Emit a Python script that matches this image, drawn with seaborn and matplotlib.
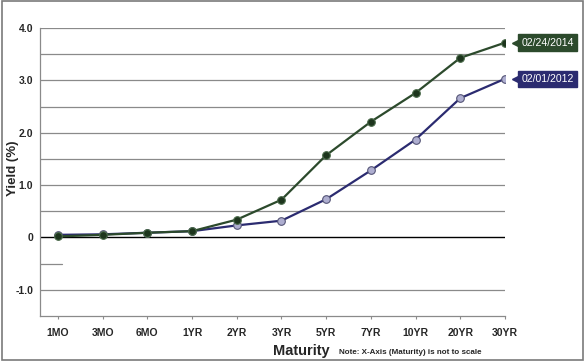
import matplotlib
matplotlib.use('Agg')
import matplotlib.pyplot as plt
import matplotlib.transforms as mtransforms
from matplotlib.patches import Rectangle
import seaborn as sns
import pandas as pd

maturities = ['1MO', '3MO', '6MO', '1YR', '2YR', '3YR', '5YR', '7YR', '10YR', '20YR', '30YR']
yield_2014 = [0.02, 0.05, 0.09, 0.12, 0.34, 0.72, 1.57, 2.21, 2.76, 3.43, 3.72]
yield_2012 = [0.05, 0.06, 0.09, 0.12, 0.23, 0.32, 0.73, 1.28, 1.87, 2.66, 3.03]
labels = ['02/24/2014', '02/01/2012']

green = '#2c4a2c'
navy = '#2b2b70'

sns.set_style('white')
plt.rcParams['font.family'] = ['Liberation Sans', 'DejaVu Sans']

df = pd.DataFrame({'Maturity': maturities * 2,
                   'Yield': yield_2014 + yield_2012,
                   'Date': [labels[0]] * len(maturities) + [labels[1]] * len(maturities)})
df['pos'] = list(range(len(maturities))) * 2

fig = plt.figure(figsize=(5.85, 3.61), dpi=100)
ax = fig.add_axes([40 / 585, 1 - 316 / 361, 465 / 585, 288 / 361])

# grid lines every 0.5
for y in [-1.0, 0.5, 1.0, 1.5, 2.0, 2.5, 3.0, 3.5, 4.0]:
    ax.axhline(y, color='#8a8a8a', lw=0.9, zorder=0)
ax.axhline(0, color='black', lw=1.0, zorder=1)
ax.plot([-0.4, 0.1], [-0.5, -0.5], color='#8a8a8a', lw=0.9, zorder=0)

sns.lineplot(data=df[df['Date'] == labels[1]], x='pos', y='Yield', ax=ax, color=navy,
             lw=1.6, marker='o', markersize=5.5, markerfacecolor='#aeaed0',
             markeredgecolor='#555577', markeredgewidth=0.8, zorder=3)
sns.lineplot(data=df[df['Date'] == labels[0]], x='pos', y='Yield', ax=ax, color=green,
             lw=1.6, marker='o', markersize=5.5, markerfacecolor='#1d351d',
             markeredgecolor='#4a6a4a', markeredgewidth=0.8, zorder=4)

ax.set_xlim(-0.4, 10)
ax.set_ylim(-1.5, 4.0)
ax.set_xticks(range(len(maturities)))
ax.set_xticklabels(maturities, fontsize=7.5, fontweight='bold')
ax.set_yticks([-1.0, 0, 1.0, 2.0, 3.0, 4.0])
ax.set_yticklabels(['-1.0', '0', '1.0', '2.0', '3.0', '4.0'], fontsize=7.5, fontweight='bold')
ax.tick_params(axis='x', bottom=True, length=2.5, color='#8a8a8a', pad=6)
ax.tick_params(axis='y', left=False, pad=1.5)
for s in ['top', 'right']:
    ax.spines[s].set_visible(False)
for s in ['left', 'bottom']:
    ax.spines[s].set_color('#8a8a8a')
    ax.spines[s].set_linewidth(0.9)
ax.set_xlabel('')
ax.set_ylabel('')

fig.text(13 / 585, 1 - 168 / 361, 'Yield (%)', fontsize=9.5, fontweight='bold',
         rotation=90, ha='center', va='center')
fig.text(330 / 585, 1 - 351 / 361, 'Maturity', fontsize=10.5, fontweight='bold',
         ha='right', va='center')
fig.text(339 / 585, 1 - 352 / 361, 'Note: X-Axis (Maturity) is not to scale',
         fontsize=5.8, fontweight='bold', ha='left', va='center')

# end-of-line tags
for vals, lab, col in [(yield_2014, labels[0], green), (yield_2012, labels[1], navy)]:
    tr = mtransforms.offset_copy(ax.transData, fig=fig, x=12, y=0, units='points')
    ax.text(10, vals[-1], lab, transform=tr, color='white', fontsize=7.6,
            ha='left', va='center', clip_on=False,
            bbox=dict(boxstyle='square,pad=0.3', fc=col, ec=col))
    tr2 = mtransforms.offset_copy(ax.transData, fig=fig, x=7, y=0, units='points')
    ax.plot([10], [vals[-1]], marker='<', markersize=5, color=col, transform=tr2,
            clip_on=False, zorder=5)

# outer frame
fig.patches.append(Rectangle((0.003, 0.003), 0.994, 0.994, transform=fig.transFigure,
                             fill=False, ec='#7a7a7a', lw=1.2))

fig.savefig('out.png', dpi=100)
